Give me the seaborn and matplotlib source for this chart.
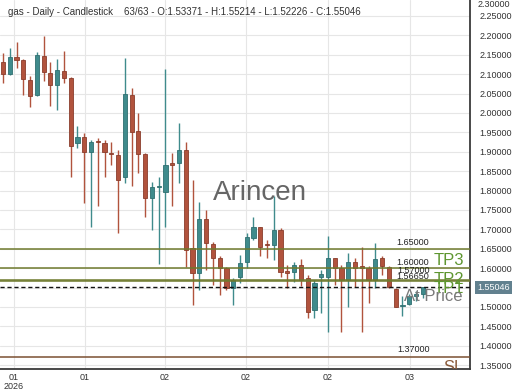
import numpy as np
import pandas as pd
import seaborn as sns
import matplotlib.pyplot as plt
import matplotlib.transforms as mtransforms

# Daily gas candles (63 bars)
opens = [2.132, 2.100, 2.144, 2.137, 2.085, 2.046, 2.147, 2.104, 2.072, 2.109,
         2.089, 1.922, 1.939, 1.898, 1.927, 1.923, 1.897, 1.892, 1.836, 2.046,
         1.954, 1.894, 1.780, 1.808, 1.797, 1.870, 1.870, 1.905, 1.651, 1.587,
         1.726, 1.662, 1.626, 1.600, 1.548, 1.578, 1.617, 1.677, 1.705, 1.661,
         1.660, 1.698, 1.593, 1.591, 1.608, 1.574, 1.492, 1.577, 1.578, 1.626,
         1.600, 1.570, 1.617, 1.606, 1.600, 1.570, 1.626, 1.604, 1.546, 1.503,
         1.507, 1.528, 1.53371]
highs = [2.155, 2.167, 2.184, 2.138, 2.095, 2.158, 2.197, 2.132, 2.138, 2.160,
         2.093, 1.966, 1.948, 1.930, 1.935, 1.930, 1.926, 1.905, 2.141, 2.064,
         2.000, 1.896, 1.823, 1.836, 2.113, 1.896, 1.975, 1.926, 1.827, 1.771,
         1.750, 1.668, 1.630, 1.604, 1.574, 1.634, 1.690, 1.733, 1.707, 1.673,
         1.785, 1.703, 1.608, 1.617, 1.623, 1.582, 1.570, 1.595, 1.683, 1.626,
         1.608, 1.638, 1.626, 1.655, 1.606, 1.666, 1.632, 1.606, 1.548, 1.528,
         1.533, 1.540, 1.55214]
lows = [2.077, 2.098, 2.115, 2.046, 2.015, 2.044, 2.081, 2.018, 2.008, 2.077,
        1.836, 1.909, 1.768, 1.707, 1.760, 1.836, 1.866, 1.691, 1.819, 1.812,
        1.845, 1.733, 1.698, 1.611, 1.707, 1.759, 1.819, 1.604, 1.505, 1.544,
        1.595, 1.557, 1.531, 1.544, 1.505, 1.561, 1.600, 1.673, 1.630, 1.625,
        1.621, 1.578, 1.549, 1.565, 1.554, 1.471, 1.471, 1.484, 1.436, 1.557,
        1.436, 1.501, 1.552, 1.436, 1.509, 1.548, 1.583, 1.548, 1.499, 1.477,
        1.505, 1.515, 1.52226]
closes = [2.100, 2.144, 2.137, 2.087, 2.044, 2.149, 2.106, 2.072, 2.111, 2.089,
          1.915, 1.937, 1.900, 1.926, 1.925, 1.898, 1.894, 1.827, 2.049, 1.952,
          1.894, 1.780, 1.810, 1.809, 1.866, 1.866, 1.905, 1.647, 1.587, 1.726,
          1.664, 1.626, 1.600, 1.548, 1.570, 1.614, 1.681, 1.705, 1.655, 1.660,
          1.698, 1.591, 1.588, 1.608, 1.570, 1.488, 1.561, 1.585, 1.626, 1.600,
          1.570, 1.617, 1.600, 1.600, 1.570, 1.623, 1.606, 1.551, 1.500, 1.506,
          1.528, 1.534, 1.55046]

# Trade levels
tp_prices = [1.60, 1.57, 1.5665]
tp_names = ["TP3", "TP2", "TP1"]
entry_price = 1.65
sl_price = 1.37
last_price = 1.55046

# Axis labels
date_ticks = [1.6, 12.1, 23.9, 35.9, 48.0, 60.1]
date_labels = ["01\n2026", "01", "02", "02", "02", "03"]
price_ticks = np.round(np.arange(1.35, 2.2501, 0.05), 2)

header = ("gas - Daily - Candlestick    63/63 - O:1.53371 - H:1.55214 "
          "- L:1.52226 - C:1.55046")


def candle_frame():
    df = pd.DataFrame({"open": opens, "high": highs, "low": lows, "close": closes})
    df["bar"] = np.arange(len(df))
    df["up"] = df["close"] >= df["open"]
    df["bottom"] = df[["open", "close"]].min(axis=1)
    df["body"] = (df["close"] - df["open"]).abs().clip(lower=0.003)
    return df


def draw_candles(ax, df):
    up_col, down_col = "#3f8b8c", "#b1533d"
    face = np.where(df["up"], up_col, down_col)
    edge = np.where(df["up"], "#2f6f70", "#8a3d2c")
    ax.vlines(df["bar"], df["low"], df["high"], colors=face, lw=1.0, zorder=3)
    ax.bar(df["bar"], df["body"], bottom=df["bottom"], width=0.62,
           color=face, edgecolor=edge, linewidth=0.6, zorder=4)


def draw_levels(ax):
    trans = mtransforms.blended_transform_factory(ax.transAxes, ax.transData)
    small = dict(fontsize=6.5, color="#222222", ha="center", va="bottom",
                 transform=trans, zorder=6)
    ax.axhline(entry_price, color="#6f7a2e", lw=1.1, zorder=5)
    ax.text(0.879, entry_price + 0.004, f"{entry_price:.5f}", **small)

    for price, name in zip(tp_prices, tp_names):
        ax.axhline(price, color="#6f7a2e", lw=1.1, zorder=5)
    ax.text(0.879, tp_prices[0] + 0.004, f"{tp_prices[0]:.5f}", **small)
    ax.text(0.879, tp_prices[1] + 0.011, f"{tp_prices[1]:.5f}", **small)
    ax.text(0.879, tp_prices[2] + 0.001, f"{tp_prices[2]:.5f}", **small)

    big = dict(fontsize=12, color="#5e9630", ha="right", transform=trans, zorder=6)
    ax.text(0.987, tp_prices[0], tp_names[0], va="bottom", **big)
    ax.text(0.987, tp_prices[1], tp_names[1], va="center", **big)
    ax.text(0.987, tp_prices[2], tp_names[2], va="top", **big)

    ax.axhline(sl_price, color="#7b4f31", lw=1.1, zorder=5)
    ax.text(0.879, sl_price + 0.008, f"{sl_price:.5f}", **small)
    ax.text(0.987, sl_price - 0.008, "SL", fontsize=12, color="#8a5a3a",
            ha="right", va="top", transform=trans, zorder=6, clip_on=True)

    ax.axhline(last_price, color="#111111", lw=1.0, ls=(0, (3, 2)), zorder=5)
    ax.text(0.985, last_price - 0.003, "At Price", fontsize=12, color="#7a7a7a",
            ha="right", va="top", transform=trans, zorder=6)
    ax.text(1.015, last_price, f"{last_price:.5f}", fontsize=6.5, color="white",
            ha="left", va="center", transform=trans, zorder=7, clip_on=False,
            bbox=dict(boxstyle="square,pad=0.25", fc="#62818f", ec="none"))


if __name__ == "__main__":
    df = candle_frame()

    sns.set_theme(style="whitegrid")
    plt.rcParams["font.family"] = ["Liberation Sans", "DejaVu Sans"]

    fig = plt.figure(figsize=(5.2, 3.9), dpi=100)
    ax = fig.add_axes([0, 21 / 390, 470 / 520, 369 / 390])
    ax.set_facecolor("white")

    draw_candles(ax, df)
    draw_levels(ax)

    ax.set_xlim(-0.44, 68.98)
    ax.set_ylim(1.340, 2.291)

    ax.yaxis.tick_right()
    ax.set_yticks(price_ticks)
    ax.set_yticklabels([f"{p:.5f}" for p in price_ticks])
    ax.set_xticks(date_ticks)
    ax.set_xticklabels(date_labels, linespacing=0.95)
    ax.tick_params(axis="both", length=0, labelsize=6.5, labelcolor="#333333")
    ax.tick_params(axis="y", pad=7)
    ax.tick_params(axis="x", pad=3)
    ax.text(1.0 + 8 / 470, 1.0, "2.30000", transform=ax.transAxes,
            fontsize=6.5, color="#333333", ha="left", va="top")

    ax.grid(True, color="#e6e6e6", lw=0.8)
    for side in ["top", "left"]:
        ax.spines[side].set_visible(False)
    for side in ["right", "bottom"]:
        ax.spines[side].set_visible(True)
        ax.spines[side].set_color("#3a3a3a")
        ax.spines[side].set_linewidth(1.3)

    ax.text(8 / 470, 0.967, header, transform=ax.transAxes, fontsize=7,
            color="#333333", ha="left", va="center", zorder=8)
    ax.text(0.553, 0.477, "Arincen", transform=ax.transAxes, fontsize=20,
            color="#555555", alpha=0.9, ha="center", va="center", zorder=8)

    fig.savefig("out.png", dpi=100, facecolor="white")
